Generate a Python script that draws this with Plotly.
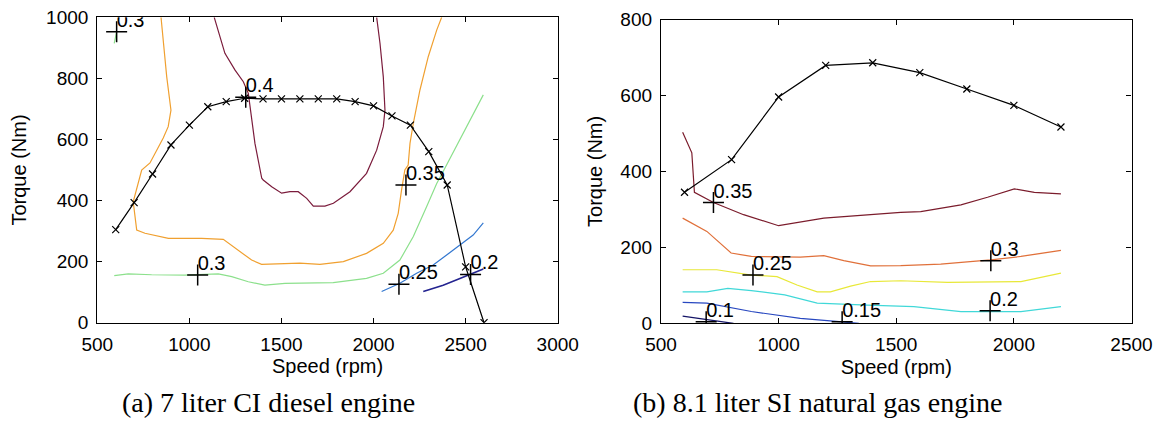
import plotly.graph_objects as go

# ---------------- (a) 7 liter CI diesel engine ----------------
a_wot_rpm = [600, 700, 800, 900, 1000, 1100, 1200, 1300, 1400, 1500, 1600, 1700, 1800,
             1900, 2000, 2100, 2200, 2300, 2400, 2500, 2600]
a_wot_tq = [305, 393, 487, 582, 647, 707, 724, 735, 733, 733, 733, 733, 733,
            724, 710, 677, 647, 560, 451, 183, 0]

a_c040_rpm = [1135, 1157, 1193, 1248, 1293, 1320, 1338, 1356, 1393, 1401, 1447, 1501, 1546,
              1591, 1637, 1673, 1736, 1782, 1872, 1962, 2017, 2053, 2062, 2053, 2035, 2017]
a_c040_tq = [1000, 958, 882, 827, 789, 751, 675, 587, 473, 467, 445, 424, 429,
             429, 407, 382, 382, 391, 429, 489, 565, 642, 696, 805, 915, 1000]

a_c035_rpm = [846, 858, 877, 900, 885, 858, 822, 786, 741, 695, 714, 759, 886, 1067, 1184,
              1265, 1338, 1392, 1519, 1600, 1709, 1836, 1962, 2053, 2107, 2134, 2152, 2170,
              2188, 2198, 2216, 2252, 2297, 2343, 2370]
a_c035_tq = [1000, 915, 805, 696, 642, 605, 565, 523, 500, 396, 303, 293, 276, 276, 273,
             238, 205, 191, 193, 195, 191, 200, 227, 260, 303, 358, 434, 500,
             516, 587, 653, 762, 871, 958, 1000]

a_c030_rpm = [592, 668, 795, 976, 1157, 1230, 1320, 1410, 1519, 1600, 1781, 1962, 2053,
              2143, 2216, 2288, 2343, 2378, 2469, 2596]
a_c030_tq = [154, 160, 157, 156, 160, 151, 134, 123, 129, 129, 131, 145, 162,
             205, 282, 380, 456, 495, 598, 746]
a_c030b_rpm = [592, 605]
a_c030b_tq = [915, 953]

a_c025_rpm = [2044, 2143, 2234, 2324, 2397, 2469, 2541, 2596]
a_c025_tq = [102, 129, 162, 189, 222, 254, 287, 327]

a_c020_rpm = [2270, 2378, 2469, 2541, 2596]
a_c020_tq = [102, 123, 145, 162, 176]

a_lbl_text = ["0.3", "0.4", "0.35", "0.3", "0.25", "0.2"]
a_lbl_rpm = [605, 1306, 2176, 1045, 2138, 2527]
a_lbl_tq = [953, 738, 451, 156, 126, 158]

# ---------------- (b) 8.1 liter SI natural gas engine ----------------
b_wot_rpm = [600, 800, 1000, 1200, 1400, 1600, 1800, 2000, 2200]
b_wot_tq = [345, 431, 596, 679, 686, 660, 617, 574, 517]

b_c035_rpm = [592, 631, 642, 723, 851, 1000, 1192, 1377, 1519, 1604, 1775, 1888, 2002, 2087, 2200]
b_c035_tq = [503, 449, 345, 318, 286, 257, 277, 286, 292, 294, 312, 332, 354, 345, 341]

b_c030_rpm = [592, 695, 798, 884, 1092, 1192, 1277, 1391, 1519, 1689, 1902, 2030, 2200]
b_c030_tq = [277, 242, 185, 176, 174, 178, 165, 151, 152, 156, 167, 176, 192]

b_c025_rpm = [592, 737, 884, 993, 1078, 1164, 1220, 1306, 1391, 1519, 1718, 2030, 2200]
b_c025_tq = [141, 141, 127, 123, 101, 83, 83, 98, 110, 112, 108, 110, 132]

b_c020_rpm = [592, 695, 784, 884, 1026, 1164, 1377, 1575, 1775, 2030, 2200]
b_c020_tq = [83, 83, 92, 86, 75, 53, 48, 44, 31, 31, 44]

b_c015_rpm = [592, 695, 884, 1092, 1270, 1341]
b_c015_tq = [55, 53, 31, 13, 4, 0]

b_c010_rpm = [592, 695, 808]
b_c010_tq = [19, 9, 0]

b_lbl_text = ["0.35", "0.3", "0.25", "0.2", "0.15", "0.1"]
b_lbl_rpm = [723, 1902, 891, 1899, 1270, 692]
b_lbl_tq = [318, 165, 127, 33, 4, 4]

# ---------------- figure ----------------
fig = go.Figure()

def line(x, y, color, xa, ya, width=1.2):
    fig.add_trace(go.Scatter(x=x, y=y, mode="lines", xaxis=xa, yaxis=ya,
                             line=dict(color=color, width=width), showlegend=False,
                             hoverinfo="skip"))

def wot(x, y, xa, ya):
    fig.add_trace(go.Scatter(x=x, y=y, mode="lines+markers", xaxis=xa, yaxis=ya,
                             line=dict(color="black", width=1.2),
                             marker=dict(symbol="x-thin", size=7,
                                         line=dict(color="black", width=1.2)),
                             showlegend=False))

def labels(x, y, t, xa, ya):
    fig.add_trace(go.Scatter(x=x, y=y, mode="markers", xaxis=xa, yaxis=ya,
                             marker=dict(symbol="cross-thin", size=15,
                                         line=dict(color="black", width=1.5)),
                             showlegend=False))
    fig.add_trace(go.Scatter(x=x, y=y, text=t, mode="text", xaxis=xa, yaxis=ya,
                             textposition="top right", cliponaxis=True,
                             textfont=dict(family="Liberation Sans", size=20, color="black"),
                             showlegend=False, hoverinfo="skip"))

# (a)
line(a_c040_rpm, a_c040_tq, "#7b1c3c", "x", "y")
line(a_c035_rpm, a_c035_tq, "#f0a030", "x", "y")
line(a_c030_rpm, a_c030_tq, "#8ce08c", "x", "y")
line(a_c030b_rpm, a_c030b_tq, "#8ce08c", "x", "y")
line(a_c025_rpm, a_c025_tq, "#3478d0", "x", "y")
line(a_c020_rpm, a_c020_tq, "#242490", "x", "y", 1.6)
wot(a_wot_rpm, a_wot_tq, "x", "y")
labels(a_lbl_rpm, a_lbl_tq, a_lbl_text, "x", "y")

# (b)
line(b_c035_rpm, b_c035_tq, "#7b1c2c", "x2", "y2")
line(b_c030_rpm, b_c030_tq, "#e0703a", "x2", "y2")
line(b_c025_rpm, b_c025_tq, "#e8e838", "x2", "y2")
line(b_c020_rpm, b_c020_tq, "#40d8d8", "x2", "y2")
line(b_c015_rpm, b_c015_tq, "#2848c0", "x2", "y2")
line(b_c010_rpm, b_c010_tq, "#141466", "x2", "y2")
wot(b_wot_rpm, b_wot_tq, "x2", "y2")
labels(b_lbl_rpm, b_lbl_tq, b_lbl_text, "x2", "y2")

W, H = 1161, 423
OFF = 8  # default page body margin in the browser


def fx(px):
    return (px - OFF) / W


def fy(py):
    return 1 - (py - OFF) / H


tickfont = dict(family="Liberation Sans", size=19, color="black")
titlefont = dict(family="Liberation Sans", size=20, color="black")
axis_common = dict(showline=True, linecolor="black", linewidth=1.3, mirror="ticks",
                   ticks="inside", ticklen=5, tickcolor="black", showgrid=False,
                   zeroline=False, tickfont=tickfont, automargin=False,
                   ticklabelstandoff=4, ticklabeloverflow="allow")

fig.update_layout(
    width=W, height=H,
    margin=dict(l=0, r=0, t=0, b=0),
    paper_bgcolor="white", plot_bgcolor="white",
    xaxis=dict(domain=[fx(97.3), fx(557.7)], range=[500, 3000], dtick=500, anchor="y",
               title=dict(text="Speed (rpm)", font=titlefont, standoff=5), **axis_common),
    yaxis=dict(domain=[fy(322.7), fy(17.3)], range=[0, 1000], dtick=200, anchor="x",
               title=dict(text="Torque (Nm)", font=titlefont, standoff=20), **axis_common),
    xaxis2=dict(domain=[fx(661), fx(1131.5)], range=[500, 2500], dtick=500, anchor="y2",
                title=dict(text="Speed (rpm)", font=titlefont, standoff=5), **axis_common),
    yaxis2=dict(domain=[fy(323.3), fy(19.5)], range=[0, 800], dtick=200, anchor="x2",
                title=dict(text="Torque (Nm)", font=titlefont, standoff=12), **axis_common),
    annotations=[
        dict(text="(a) 7 liter CI diesel engine", x=fx(268), y=fy(402),
             xref="paper", yref="paper", showarrow=False, xanchor="center", yanchor="middle",
             font=dict(family="Liberation Serif", size=28, color="black")),
        dict(text="(b) 8.1 liter SI natural gas engine", x=fx(817), y=fy(402),
             xref="paper", yref="paper", showarrow=False, xanchor="center", yanchor="middle",
             font=dict(family="Liberation Serif", size=28, color="black")),
    ],
)

fig.write_html("out.html")
